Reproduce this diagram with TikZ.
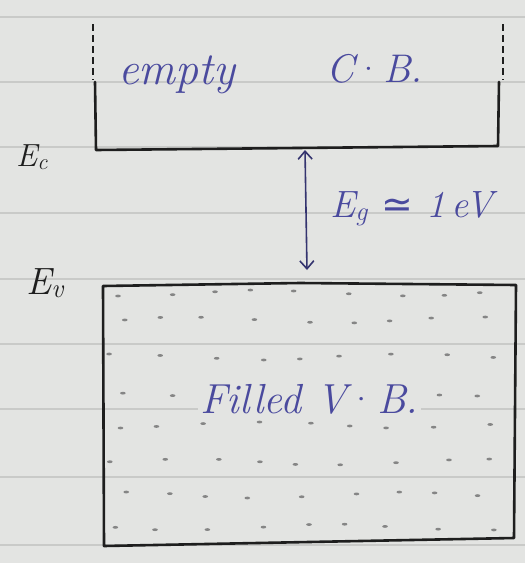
\documentclass[tikz,border=0pt]{standalone}
\usepackage{fontspec}
\newfontfamily\symfont{DejaVu Sans}
\usetikzlibrary{arrows.meta}
\definecolor{paper}{HTML}{E3E4E2}
\definecolor{rule}{HTML}{C9CAC8}
\definecolor{ink}{HTML}{4A4A9E}
\definecolor{pencil}{HTML}{1E1E1E}
\definecolor{speck}{HTML}{858585}
\tikzset{
  bandline/.style={draw=pencil, line width=2.6pt, line cap=round, line join=round},
  dashline/.style={draw=pencil, line width=1.8pt, dash pattern=on 7pt off 4pt},
  handtext/.style={text=ink, font=\itshape\fontsize{46}{50}\selectfont, inner sep=0pt},
  smalltext/.style={text=ink, font=\itshape\fontsize{40}{44}\selectfont, inner sep=0pt},
  vbtext/.style={text=ink, font=\itshape\fontsize{42}{46}\selectfont, inner sep=0pt},
  gaptext/.style={text=ink, font=\itshape\fontsize{38}{42}\selectfont, inner sep=0pt},
  labeltext/.style={text=pencil, font=\itshape\fontsize{32}{34}\selectfont, inner sep=0pt},
  biglabeltext/.style={text=pencil, font=\itshape\fontsize{38}{40}\selectfont, inner sep=0pt},
  gaparrow/.style={draw=ink!70!black, line width=1.6pt, {Straight Barb[length=8pt,width=14pt]}-{Straight Barb[length=8pt,width=14pt]}},
  dotmark/.style={fill=speck}
}
\begin{document}
\begin{tikzpicture}[x=1pt,y=-1pt]
\useasboundingbox (0,0) rectangle (525,563);
\fill[paper] (0,0) rectangle (525,563);
% ruled lines
\foreach \yy in {17,82,147,213,279,344,409,477,545}
  \draw[rule, line width=1.2pt] (0,\yy) -- (525,\yy);
% conduction band
\draw[dashline] (93,24) -- (93,80);
\draw[dashline] (503,24) -- (503,80);
\draw[bandline] (95,82) -- (96,150) -- (498,146) -- (499,82);
\node[handtext, anchor=base west] (cbtxt) at (118,84) {empty};
\node[smalltext, anchor=base west] (cbname) at (326,82) {C{\upshape·}B.};
\node[labeltext, anchor=base west] (ec) at (16,166) {E\textsubscript{c}};
% valence band
\draw[bandline] (103,286) -- (300,283) -- (516,285) -- (514,538) -- (104,546) -- cycle;
\node[biglabeltext, anchor=base west] (ev) at (26,294) {E\textsubscript{v}};
\foreach \r/\yy in {0/293,1/320,2/357,3/393,4/425,5/462,6/495,7/527}
  \foreach \c in {0,...,8} {
    \pgfmathsetmacro{\xx}{118+46*\c+9*sin(73*\c+131*\r)}
    \pgfmathsetmacro{\yo}{\yy+3*cos(57*\c+91*\r)}
    \fill[dotmark] (\xx,\yo) ellipse (2.8pt and 1.4pt);
  }
\node[vbtext, anchor=base west, fill=paper, inner sep=2pt] (vbtxt) at (198,413) {Filled V{\upshape·}B.};
% gap arrow
\coordinate (gtop) at (305,150);
\coordinate (gbot) at (307,270);
\draw[gaparrow] (gtop) -- (gbot);
\node[gaptext, anchor=base west] (eg) at (330,217) {E\textsubscript{g} {\upshape\symfont ≃} 1\,eV};
\end{tikzpicture}
\end{document}
